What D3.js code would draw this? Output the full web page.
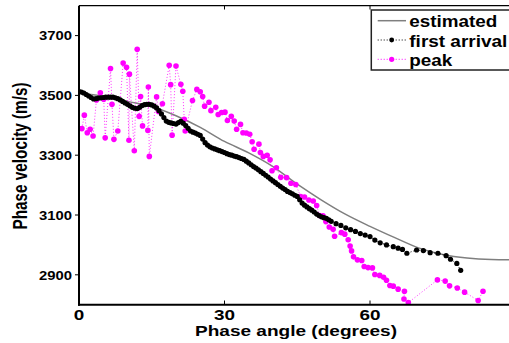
<!DOCTYPE html>
<html><head><meta charset="utf-8">
<script src="https://cdn.jsdelivr.net/npm/d3@7"></script>
<style>body{margin:0;background:#fff}svg{display:block}text{font-family:"Liberation Sans",Arial,sans-serif;font-weight:bold}</style>
</head><body>
<script>
// ---- data ----
const estAngle = [0,5,10,15,20,25,30,35,40,45,50,55,60,65,70,75,80,85,90];
const estVel   = [3508,3497,3480,3463,3432,3393,3346,3308,3262,3203,3150,3102,3062,3025,2990,2968,2956,2951,2950];

const firstAngle = [0,0.5,1,1.5,2,2.5,3,3.5,4,4.5,5,5.5,6,6.5,7,7.5,8,8.5,9,9.5,10,10.5,11,11.5,12,12.5,13,13.5,14,14.5,15,15.5,16,16.5,17,17.5,18,18.5,19,19.5,20,20.5,21,21.5,22,22.5,23,23.5,24,24.5,25,25.5,26,26.5,27,27.5,28,28.5,29,29.5,30,30.5,31,31.5,32,32.5,33,33.5,34,34.5,35,35.5,36,36.5,37,37.5,38,38.5,39,39.5,40,40.5,41,41.5,42,42.5,43,43.5,44,44.5,45,45.5,46,46.5,47,47.5,48,48.5,49,49.5,50,50.5,51,51.5,
  52,53,54,55,56,57,58,59,60,
  61.0,62.1,63.4,64.8,65.8,66.7,67.6,69.6,71.0,72.4,74.0,75.7,76.6,77.9,78.7];
const firstVel = [3513,3511,3508,3503,3498,3493,3488,3489,3491,3492,3493,3494,3494,3494,3494,3492,3489,3485,3480,3475,3470,3465,3460,3457,3456,3460,3466,3469,3470,3470,3468,3464,3458,3449,3438,3426,3414,3410,3408,3406,3404,3409,3413,3407,3399,3390,3381,3377,3374,3370,3366,3354,3342,3334,3328,3324,3321,3318,3315,3312,3309,3305,3302,3300,3297,3295,3292,3289,3286,3280,3274,3268,3262,3257,3251,3245,3239,3233,3227,3220,3214,3208,3202,3196,3190,3185,3179,3175,3171,3166,3162,3151,3140,3133,3127,3121,3116,3110,3103,3098,3094,3091,3089,3084,
  3079,3071,3065,3057,3051,3045,3038,3033,3028,
  3016,3007,3000,2994,2989,2985,2972,2983,2981,2974,2972,2964,2952,2938,2915];

const peakAngle = [0.0,0.6,1.1,1.7,2.3,2.9,3.6,4.4,5.1,5.4,6.5,6.8,7.2,8.0,9.1,9.8,10.3,10.4,11.4,12.0,12.4,12.7,13.1,14.2,14.3,14.5,16.0,16.4,17.2,18.6,18.9,19.2,20.0,21.0,21.4,21.7,21.9,23.4,24.3,25.0,25.5,25.9,26.8,27.2,28.2,28.7,29.4,30.1,30.6,31.4,32.0,32.5,33.3,33.8,34.5,35.2,35.7,36.1,37.1,37.4,38.0,38.8,39.4,39.8,40.7,41.6,42.8,43.7,44.7,45.7,46.5,47.4,48.3,49.0,49.6,50.3,50.9,51.6,52.4,52.7,54.1,54.8,55.5,55.9,56.2,56.6,57.4,58.3,58.8,59.6,60.5,61.0,62.0,62.8,63.4,64.1,64.8,65.8,67.1,67.0,67.9,73.9,75.5,76.4,78.0,79.5,82.3,83.3];
const peakVel = [3389,3389,3434,3375,3387,3364,3485,3509,3487,3358,3590,3470,3353,3381,3608,3594,3350,3571,3315,3654,3430,3496,3398,3383,3528,3296,3495,3446,3472,3601,3536,3367,3598,3537,3514,3420,3381,3483,3520,3512,3496,3464,3477,3449,3460,3436,3443,3444,3416,3430,3414,3387,3403,3375,3374,3370,3345,3320,3337,3309,3296,3300,3285,3248,3258,3226,3225,3206,3202,3162,3160,3150,3147,3132,3098,3097,3078,3060,3052,3029,3041,3036,3017,2996,2980,2960,2950,2948,2928,2924,2923,2901,2898,2892,2882,2864,2862,2852,2845,2819,2807,2883,2879,2863,2856,2842,2814,2845];

const xTicks = [0,30,60];
const yTicks = [2900,3100,3300,3500,3700];
const legendLabels = ["estimated","first arrival","peak"];

// ---- layout ----
const W = 509, H = 343;
const svg = d3.select("body").append("svg").attr("width",W).attr("height",H);
const x = d3.scaleLinear().domain([0,90]).range([79,515.5]);
const y = d3.scaleLinear().domain([2800,3800]).range([304.7,5.7]);

svg.append("defs").append("clipPath").attr("id","plot")
  .append("rect").attr("x",79).attr("y",5.7).attr("width",436.5).attr("height",299);

const g = svg.append("g").attr("clip-path","url(#plot)");

// estimated curve
g.append("path").datum(estAngle.map((a,i)=>[a,estVel[i]]))
  .attr("d", d3.line().x(d=>x(d[0])).y(d=>y(d[1])).curve(d3.curveMonotoneX))
  .attr("fill","none").attr("stroke","#7f7f7f").attr("stroke-width",1.5);

// peak
const peak = peakAngle.map((a,i)=>[a,peakVel[i]]);
g.append("path").datum(peak)
  .attr("d", d3.line().x(d=>x(d[0])).y(d=>y(d[1])))
  .attr("fill","none").attr("stroke","#ff00ff").attr("stroke-width",1).attr("stroke-dasharray","1,2").attr("opacity",0.8);
g.selectAll("circle.pk").data(peak).join("circle").attr("class","pk")
  .attr("cx",d=>x(d[0])).attr("cy",d=>y(d[1])).attr("r",2.8).attr("fill","#ff00ff");

// first arrival
const first = firstAngle.map((a,i)=>[a,firstVel[i]]);
g.append("path").datum(first)
  .attr("d", d3.line().x(d=>x(d[0])).y(d=>y(d[1])))
  .attr("fill","none").attr("stroke","#000").attr("stroke-width",1).attr("stroke-dasharray","1,2");
g.selectAll("circle.fa").data(first).join("circle").attr("class","fa")
  .attr("cx",d=>x(d[0])).attr("cy",d=>y(d[1])).attr("r",2.6).attr("fill","#000");

// frame
svg.append("line").attr("x1",79).attr("x2",515.5).attr("y1",5.7).attr("y2",5.7).attr("stroke","#000").attr("stroke-width",1.3);
svg.append("line").attr("x1",79).attr("x2",79).attr("y1",5.7).attr("y2",305.7).attr("stroke","#000").attr("stroke-width",2);
svg.append("line").attr("x1",78).attr("x2",515.5).attr("y1",304.7).attr("y2",304.7).attr("stroke","#000").attr("stroke-width",2);

// x ticks
xTicks.forEach(t=>{
  svg.append("line").attr("x1",x(t)).attr("x2",x(t)).attr("y1",304).attr("y2",300.5).attr("stroke","#000").attr("stroke-width",1);
  svg.append("line").attr("x1",x(t)).attr("x2",x(t)).attr("y1",6).attr("y2",9.5).attr("stroke","#000").attr("stroke-width",1);
  svg.append("text").attr("x",x(t)).attr("y",320).attr("text-anchor","middle").attr("font-size",14)
    .attr("textLength", String(t).length*10.5).attr("lengthAdjust","spacingAndGlyphs").text(t);
});
// y ticks
yTicks.forEach(t=>{
  svg.append("line").attr("x1",79).attr("x2",75).attr("y1",y(t)).attr("y2",y(t)).attr("stroke","#000").attr("stroke-width",1);
  svg.append("text").attr("x",72).attr("y",y(t)+4.7).attr("text-anchor","end").attr("font-size",13)
    .attr("textLength",33).attr("lengthAdjust","spacingAndGlyphs").text(t);
});

// axis titles
svg.append("text").attr("x",296).attr("y",336).attr("text-anchor","middle").attr("font-size",15)
  .attr("textLength",202).attr("lengthAdjust","spacingAndGlyphs").text("Phase angle (degrees)");
svg.append("text").attr("transform","translate(26.5,156) scale(1.3,1) rotate(-90)")
  .attr("text-anchor","middle").attr("font-size",15)
  .attr("textLength",147).attr("lengthAdjust","spacingAndGlyphs").text("Phase velocity (m/s)");

// legend
const lg = svg.append("g");
lg.append("rect").attr("x",371.3).attr("y",10).attr("width",160).attr("height",60).attr("fill","#fff").attr("stroke","#222").attr("stroke-width",1.5);
const ly = [20.7,40,59.3];
lg.append("line").attr("x1",377.7).attr("x2",406).attr("y1",ly[0]).attr("y2",ly[0]).attr("stroke","#7f7f7f").attr("stroke-width",1.5);
lg.append("line").attr("x1",377.7).attr("x2",406).attr("y1",ly[1]).attr("y2",ly[1]).attr("stroke","#000").attr("stroke-width",1).attr("stroke-dasharray","1,2");
lg.append("circle").attr("cx",391.7).attr("cy",ly[1]).attr("r",2.4).attr("fill","#000");
lg.append("line").attr("x1",377.7).attr("x2",406).attr("y1",ly[2]).attr("y2",ly[2]).attr("stroke","#ff00ff").attr("stroke-width",1).attr("stroke-dasharray","1,2");
lg.append("circle").attr("cx",391.7).attr("cy",ly[2]).attr("r",2.6).attr("fill","#ff00ff");
const lw = [88,98,43];
legendLabels.forEach((s,i)=>{
  lg.append("text").attr("x",409.3).attr("y",ly[i]+6.5).attr("font-size",16)
    .attr("textLength",lw[i]).attr("lengthAdjust","spacingAndGlyphs").text(s);
});
</script>
</body></html>
